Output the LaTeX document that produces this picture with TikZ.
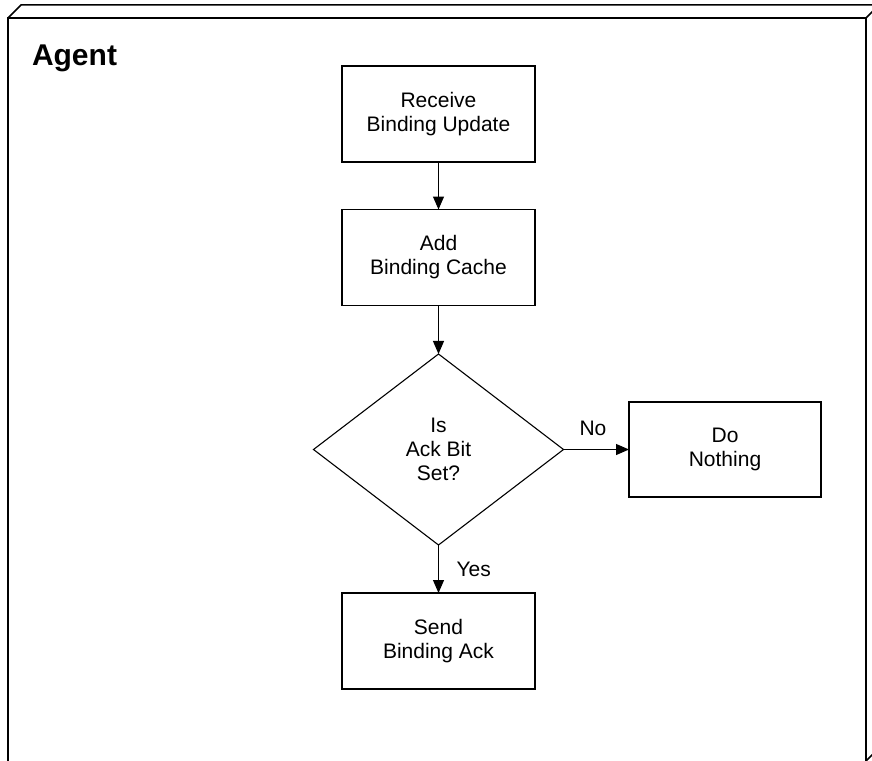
\documentclass[tikz,border=0pt]{standalone}
\usepackage{fontspec}
\setmainfont{Liberation Sans}
\usetikzlibrary{arrows.meta,shapes.geometric}
\begin{document}
\begin{tikzpicture}[x=1pt,y=-1pt,
  every node/.style={inner sep=0pt,outer sep=0pt},
  procbox/.style={draw,line width=1.3pt,minimum width=193pt,minimum height=96pt,
    align=center,font=\fontsize{21}{24}\selectfont},
  decision/.style={draw,line width=1.1pt,diamond,minimum width=250pt,minimum height=191pt,
    align=center,font=\fontsize{21}{24}\selectfont},
  flow/.style={line width=1.1pt,-{Triangle[length=13pt,width=11pt]}},
  lbl/.style={font=\fontsize{21}{24}\selectfont},
  frame/.style={line width=1.5pt,line join=miter}]
\useasboundingbox (0,0) rectangle (872,760);
% enclosing box with a bevelled top
\draw[frame] (8,770) -- (8,18) -- (866,18) -- (866,761);
\draw[frame] (8,18) -- (21,5) -- (890,5);
\draw[frame] (866,18) -- (879,5);
\draw[frame] (866,761) -- (879,748);
\node[anchor=base west,font=\bfseries\fontsize{30}{34}\selectfont] (title) at (32,65) {Agent};
% flow chart
\node[procbox] (recv) at (438.5,114) {Receive\\Binding Update};
\node[procbox] (add) at (438.5,257.5) {Add\\Binding Cache};
\node[decision] (ack) at (438.5,449.5) {Is\\Ack Bit\\Set?};
\node[procbox,minimum width=192pt,minimum height=95pt] (none) at (725,449.5) {Do\\Nothing};
\node[procbox] (send) at (438.5,641) {Send\\Binding Ack};
\draw[flow] (recv) -- (add);
\draw[flow] (add) -- (ack);
\draw[flow] (ack.east) -- (none.west) node[lbl,pos=0.45,above=14pt] (no) {No};
\draw[flow] (ack.south) -- (send.north) node[lbl,midway,anchor=west,xshift=18pt] (yes) {Yes};
\end{tikzpicture}
\end{document}
